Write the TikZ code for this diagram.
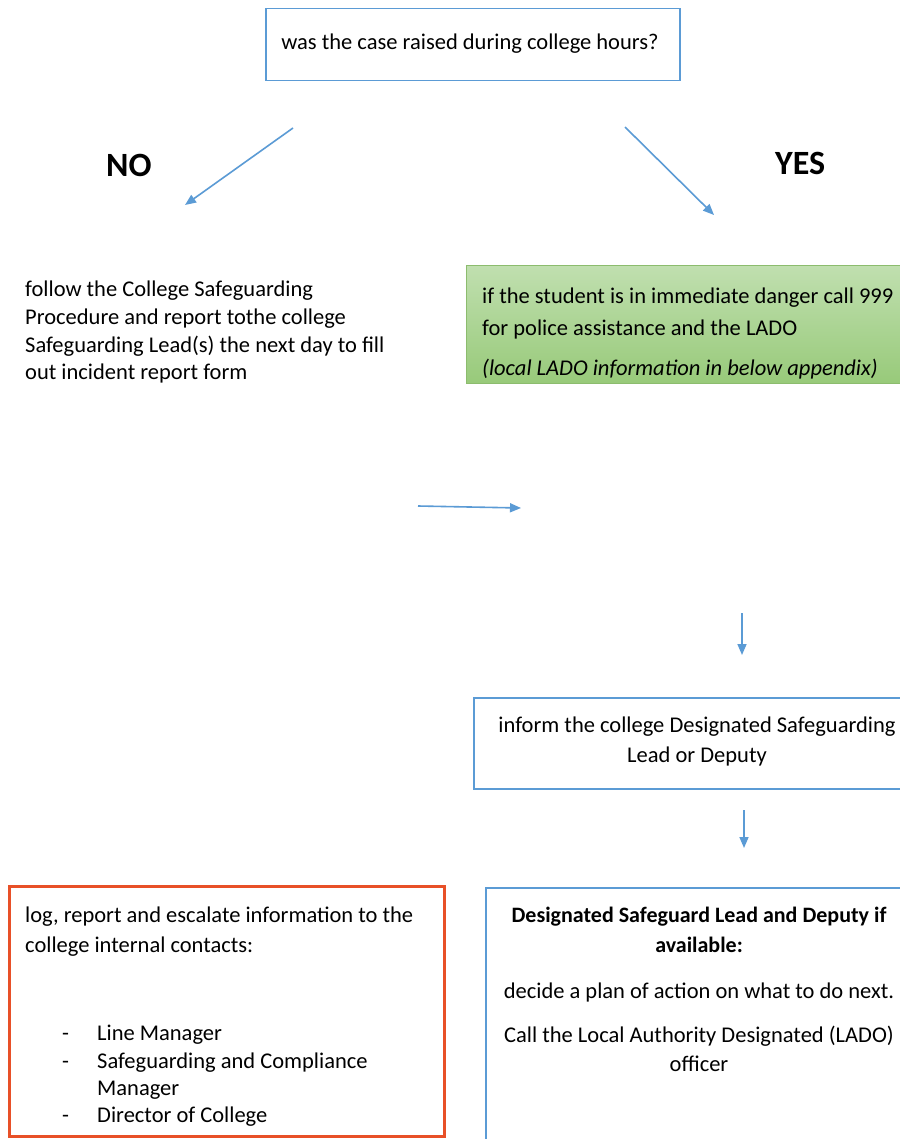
\documentclass[tikz,border=0pt]{standalone}
\usepackage{fontspec}
\setmainfont{Carlito}
\usetikzlibrary{arrows.meta}
\definecolor{bl}{RGB}{91,155,213}
\definecolor{rd}{RGB}{232,80,40}
\definecolor{gtop}{RGB}{192,223,175}
\definecolor{gbot}{RGB}{152,202,122}
\definecolor{gbd}{RGB}{140,188,110}
\tikzset{
  bluebox/.style={draw=bl, line width=1.5pt, inner sep=0pt, anchor=north west},
  arr/.style={draw=bl, line width=1.6pt, -{Triangle[length=11pt,width=9pt]}},
  txt/.style={inner sep=0pt, font=\fontsize{22.5}{28}\selectfont},
  big/.style={inner sep=0pt, font=\fontsize{34}{40}\selectfont\bfseries, anchor=base west},
}
\begin{document}
\begin{tikzpicture}[x=1pt,y=-1pt]
\useasboundingbox (0,0) rectangle (899,1139);
\fill[white] (0,0) rectangle (899,1139);
% top question box
\node[bluebox, minimum width=414pt, minimum height=72pt] (q) at (265,8) {};
\node[txt, anchor=base] (qt) at (470,50) {was the case raised during college hours?};
% NO / YES labels
\node[big] (no) at (106,177) {NO};
\node[big] (yes) at (775,175) {YES};
% arrow coordinates
\coordinate (a1s) at (293,128); \coordinate (a1e) at (185,205);
\coordinate (a2s) at (625,127); \coordinate (a2e) at (714,215);
\coordinate (a3s) at (418,506); \coordinate (a3e) at (521,508);
\coordinate (a4s) at (742,613); \coordinate (a4e) at (742,655);
\coordinate (a5s) at (744,810); \coordinate (a5e) at (744,848);
\draw[arr] (a1s) -- (a1e);
\draw[arr] (a2s) -- (a2e);
\draw[arr] (a3s) -- (a3e);
\draw[arr] (a4s) -- (a4e);
\draw[arr] (a5s) -- (a5e);
% left text
\node[txt, anchor=base west] (l1) at (25,297) {follow the College Safeguarding};
\node[txt, anchor=base west] (l2) at (25,324.5) {Procedure and report tothe college};
\node[txt, anchor=base west] (l3) at (25,352) {Safeguarding Lead(s) the next day to fill};
\node[txt, anchor=base west] (l4) at (25,379.5) {out incident report form};
% green box
\shade[top color=gtop, bottom color=gbot, draw=gbd, line width=1pt] (466,266) rectangle (910,383);
\node[txt, anchor=base west] (g1) at (482,303) {if the student is in immediate danger call 999};
\node[txt, anchor=base west] (g2) at (482,335) {for police assistance and the LADO};
\node[txt, anchor=base west] (g3) at (482,375) {\itshape (local LADO information in below appendix)};
% inform box
\node[bluebox, minimum width=440pt, minimum height=91pt] (inf) at (473,697) {};
\node[txt, anchor=base] (i1) at (697,732) {inform the college Designated Safeguarding};
\node[txt, anchor=base] (i2) at (697,762) {Lead or Deputy};
% red box
\node[draw=rd, line width=3pt, inner sep=0pt, anchor=north west, minimum width=435pt, minimum height=250pt] (red) at (8,885) {};
\node[txt, anchor=base west] (r1) at (25,922) {log, report and escalate information to the};
\node[txt, anchor=base west] (r2) at (25,952) {college internal contacts:};
\node[txt, anchor=base west] (d1) at (62,1040) {-};
\node[txt, anchor=base west] (r3) at (97,1040) {Line Manager};
\node[txt, anchor=base west] (d2) at (62,1068) {-};
\node[txt, anchor=base west] (r4) at (97,1068) {Safeguarding and Compliance};
\node[txt, anchor=base west] (r5) at (97,1095) {Manager};
\node[txt, anchor=base west] (d3) at (62,1122) {-};
\node[txt, anchor=base west] (r6) at (97,1122) {Director of College};
% bottom right box
\node[bluebox, minimum width=430pt, minimum height=270pt] (dsl) at (485,887) {};
\node[txt, anchor=base, font=\fontsize{22}{28}\selectfont\bfseries] (b1) at (699,922) {Designated Safeguard Lead and Deputy if};
\node[txt, anchor=base, font=\fontsize{22}{28}\selectfont\bfseries] (b2) at (699,952) {available:};
\node[txt, anchor=base] (b3) at (699,998) {decide a plan of action on what to do next.};
\node[txt, anchor=base] (b4) at (699,1042) {Call the Local Authority Designated (LADO)};
\node[txt, anchor=base] (b5) at (699,1071) {officer};
\end{tikzpicture}
\end{document}
